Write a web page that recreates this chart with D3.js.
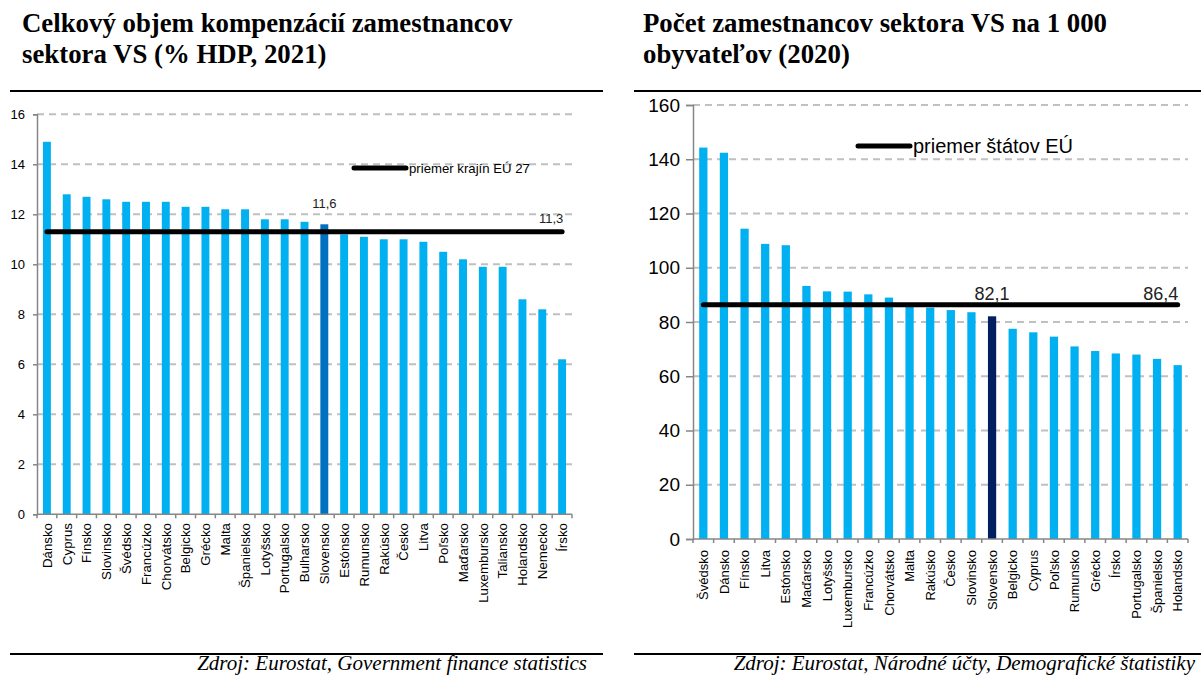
<!DOCTYPE html>
<html><head><meta charset="utf-8">
<script src="https://cdn.jsdelivr.net/npm/d3@7"></script>
<style>body{margin:0;background:#fff}svg{display:block}</style>
</head><body>
<svg id="c" width="1201" height="675"></svg>
<script>
// ---- Data: left chart ----
const leftCategories = ["Dánsko","Cyprus","Fínsko","Slovinsko","Švédsko","Francúzko","Chorvátsko","Belgicko","Grécko","Malta","Španielsko","Lotyšsko","Portugalsko","Bulharsko","Slovensko","Estónsko","Rumunsko","Rakúsko","Česko","Litva","Poľsko","Maďarsko","Luxembursko","Taliansko","Holandsko","Nemecko","Írsko"];
const leftValues = [14.9,12.8,12.7,12.6,12.5,12.5,12.5,12.3,12.3,12.2,12.2,11.8,11.8,11.7,11.6,11.2,11.1,11.0,11.0,10.9,10.5,10.2,9.9,9.9,8.6,8.2,6.2];
const leftAverage = 11.3;
const leftTicks = [0,2,4,6,8,10,12,14,16];
const leftTitle = ["Celkový objem kompenzácií zamestnancov","sektora VS (% HDP, 2021)"];
const leftLegend = "priemer krajín EÚ 27";
const leftSource = "Zdroj: Eurostat, Government finance statistics";

// ---- Data: right chart ----
const rightCategories = ["Švédsko","Dánsko","Fínsko","Litva","Estónsko","Maďarsko","Lotyšsko","Luxembursko","Francúzko","Chorvátsko","Malta","Rakúsko","Česko","Slovinsko","Slovensko","Belgicko","Cyprus","Poľsko","Rumunsko","Grécko","Írsko","Portugalsko","Španielsko","Holandsko"];
const rightValues = [144.3,142.4,114.4,108.8,108.3,93.3,91.3,91.2,90.2,89.0,86.0,85.3,84.4,83.6,82.1,77.5,76.2,74.6,71.0,69.3,68.4,68.0,66.4,64.1];
const rightAverage = 86.4;
const rightTicks = [0,20,40,60,80,100,120,140,160];
const rightTitle = ["Počet zamestnancov sektora VS na 1 000","obyvateľov (2020)"];
const rightLegend = "priemer štátov EÚ";
const rightSource = "Zdroj: Eurostat, Národné účty, Demografické štatistiky";

const fmt = v => String(v).replace(".", ",");
const svg = d3.select("#c");
svg.append("rect").attr("width",1201).attr("height",675).attr("fill","#fff");

function drawChart(cfg) {
  const g = svg.append("g");
  // title
  cfg.title.forEach((t,i) => {
    g.append("text").attr("x", cfg.titleX).attr("y", 32 + i*31)
      .attr("font-family","'Liberation Serif','Times New Roman',serif")
      .attr("font-weight","bold").attr("font-size", 26.8).attr("fill","#000").text(t);
  });
  // frame lines
  g.append("line").attr("x1",cfg.frame[0]).attr("x2",cfg.frame[1]).attr("y1",91).attr("y2",91).attr("stroke","#000").attr("stroke-width",2);
  g.append("line").attr("x1",cfg.frame[0]).attr("x2",cfg.frame[1]).attr("y1",654).attr("y2",654).attr("stroke","#000").attr("stroke-width",2);
  // source
  g.append("text").attr("x", cfg.sourceX).attr("y", 670).attr("text-anchor","end")
    .attr("font-family","'Liberation Serif','Times New Roman',serif").attr("font-style","italic")
    .attr("font-size",cfg.sourceFont).attr("fill","#000").text(cfg.source);

  const x = d3.scaleBand().domain(cfg.categories).range(cfg.xRange).paddingInner(0.6).paddingOuter(0.3);
  const y = d3.scaleLinear().domain([cfg.ticks[0], cfg.ticks[cfg.ticks.length-1]]).range(cfg.yRange);

  // gridlines
  g.selectAll(".grid").data(cfg.ticks.filter(t => t > 0)).enter().append("line")
    .attr("x1", cfg.xRange[0]).attr("x2", cfg.xRange[1])
    .attr("y1", d => y(d)).attr("y2", d => y(d))
    .attr("stroke","#c0c0c0").attr("stroke-width",2).attr("stroke-dasharray","7,5");

  // bars
  g.selectAll(".bar").data(cfg.categories).enter().append("rect")
    .attr("x", d => x(d)).attr("width", x.bandwidth())
    .attr("y", (d,i) => y(cfg.values[i]))
    .attr("height", (d,i) => y(0) - y(cfg.values[i]))
    .attr("fill", d => d === "Slovensko" ? cfg.highlight : "#00b0f0");

  // y axis
  const ya = d3.axisLeft(y).tickValues(cfg.ticks).tickSize(cfg.yTickSize).tickFormat(d => d);
  const yg = g.append("g").attr("transform", `translate(${cfg.xRange[0]},0)`).call(ya);
  yg.select(".domain").attr("stroke","#868686").attr("stroke-width",1.5);
  yg.selectAll(".tick line").attr("stroke","#868686").attr("stroke-width",1.5);
  yg.selectAll(".tick text").attr("font-family","'Liberation Sans',Arial,sans-serif")
    .attr("font-size", cfg.yFont).attr("fill","#000").attr("x", -cfg.yLabelGap);

  // x axis line + ticks at band boundaries
  const step = x.step();
  g.append("line").attr("x1", cfg.xRange[0]).attr("x2", cfg.xRange[1]).attr("y1", y(0)).attr("y2", y(0))
    .attr("stroke","#868686").attr("stroke-width",1.5);
  g.selectAll(".xt").data(cfg.categories.concat(["__end"])).enter().append("line")
    .attr("x1", (d,i) => cfg.xRange[0] + i*step).attr("x2", (d,i) => cfg.xRange[0] + i*step)
    .attr("y1", y(0)).attr("y2", y(0) + 4)
    .attr("stroke","#868686").attr("stroke-width",1.5);

  // x labels
  g.selectAll(".xl").data(cfg.categories).enter().append("text")
    .attr("transform", d => `translate(${x(d) + x.bandwidth()/2 + cfg.xFont*0.36},${cfg.xLabelTop}) rotate(-90)`)
    .attr("text-anchor","end")
    .attr("font-family","'Liberation Sans',Arial,sans-serif").attr("font-size", cfg.xFont).attr("fill","#000")
    .text(d => d);

  // average line
  const first = cfg.categories[0], last = cfg.categories[cfg.categories.length-1];
  g.append("line").attr("x1", x(first)+x.bandwidth()/2).attr("x2", x(last)+x.bandwidth()/2)
    .attr("y1", y(cfg.average)).attr("y2", y(cfg.average))
    .attr("stroke","#000").attr("stroke-width",5).attr("stroke-linecap","round");

  // value labels
  const si = cfg.categories.indexOf("Slovensko");
  g.append("text").attr("x", x("Slovensko")+x.bandwidth()/2).attr("y", y(cfg.average) - cfg.labelLift)
    .attr("text-anchor","middle").attr("font-family","'Liberation Sans',Arial,sans-serif")
    .attr("font-size", cfg.labelFont).attr("fill","#222").text(fmt(cfg.values[si]));
  g.append("text").attr("x", x(last)+x.bandwidth()/2 - cfg.avgLabelShift).attr("y", y(cfg.average) - cfg.avgLabelLift)
    .attr("text-anchor","middle").attr("font-family","'Liberation Sans',Arial,sans-serif")
    .attr("font-size", cfg.labelFont).attr("fill","#222").text(fmt(cfg.average));

  // legend
  g.append("line").attr("x1", cfg.legend[0]).attr("x2", cfg.legend[1]).attr("y1", cfg.legend[2]).attr("y2", cfg.legend[2])
    .attr("stroke","#000").attr("stroke-width",5).attr("stroke-linecap","round");
  g.append("text").attr("x", cfg.legend[1] + 3).attr("y", cfg.legend[2] + cfg.legendFont*0.35)
    .attr("font-family","'Liberation Sans',Arial,sans-serif").attr("font-size", cfg.legendFont).attr("fill","#000")
    .text(cfg.legendText);
}

drawChart({
  categories: leftCategories, values: leftValues, average: leftAverage, ticks: leftTicks,
  title: leftTitle, titleX: 22, frame: [10, 603], source: leftSource, sourceX: 587, sourceFont: 21,
  xRange: [37, 572], yRange: [514.3, 114.3], yTickSize: 4, yFont: 13, yLabelGap: 12,
  xFont: 13.3, xLabelTop: 523, highlight: "#0070c0",
  labelFont: 13, labelLift: 24, avgLabelShift: 11, avgLabelLift: 9,
  legend: [354, 406, 168], legendFont: 13.2, legendText: leftLegend
});
drawChart({
  categories: rightCategories, values: rightValues, average: rightAverage, ticks: rightTicks,
  title: rightTitle, titleX: 643, frame: [634, 1201], source: rightSource, sourceX: 1195, sourceFont: 21,
  xRange: [693, 1188], yRange: [539, 105], yTickSize: 7, yFont: 19, yLabelGap: 13,
  xFont: 13, xLabelTop: 550, highlight: "#002060",
  labelFont: 18, labelLift: 5, avgLabelShift: 17, avgLabelLift: 5,
  legend: [858, 910, 146], legendFont: 20, legendText: rightLegend
});
</script>
</body></html>
